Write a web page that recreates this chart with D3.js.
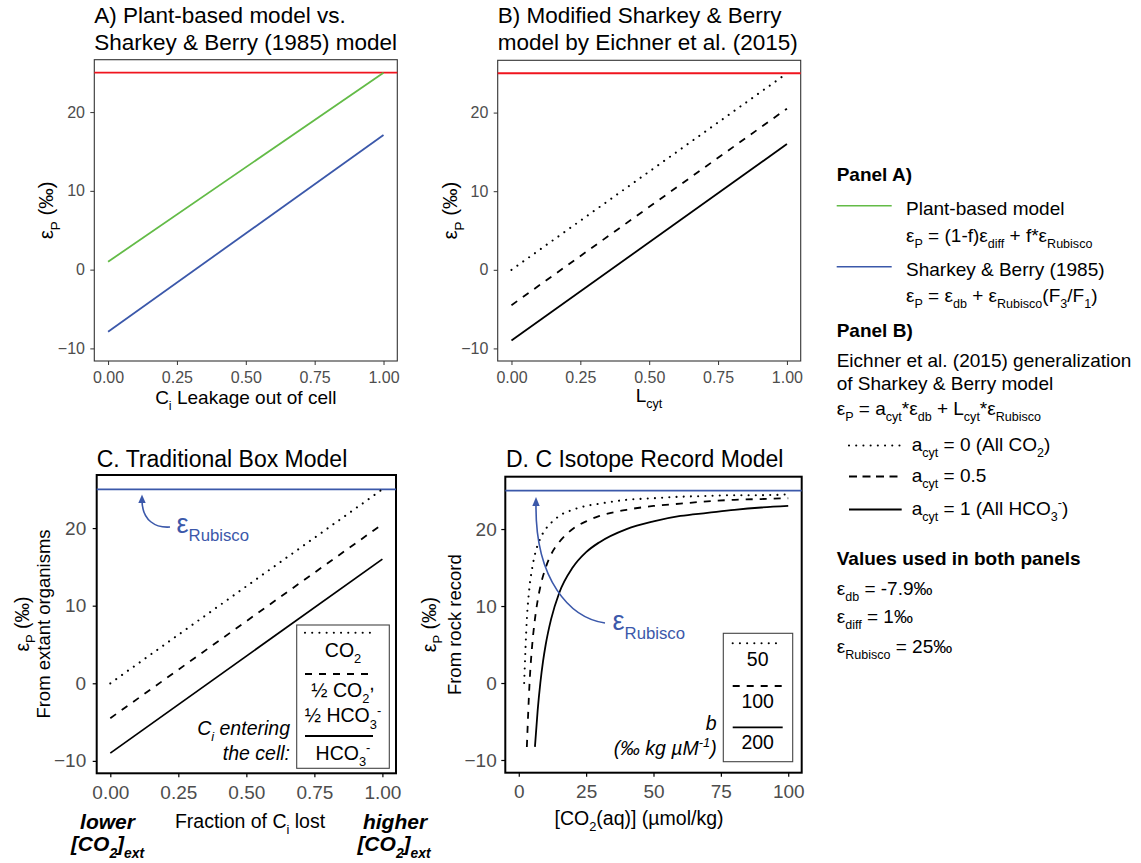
<!DOCTYPE html>
<html>
<head>
<meta charset="utf-8">
<script src="https://cdn.jsdelivr.net/npm/d3@7"></script>
<style>
  body { margin: 0; background: #fff; }
  svg { display: block; font-family: "Liberation Sans", Arial, Helvetica, sans-serif; }
</style>
</head>
<body>
<svg id="fig" width="1141" height="863"></svg>
<script>
// ---------------- data ----------------
const epsRubisco = 25;

// Panels A-C: straight-line models over the 0..1 fraction axis
const fractionX = [0, 1];
const plantBased = [1, 25];          // (1-f)·ε_diff + f·ε_Rubisco
const sharkeyBerry = [-7.9, 17.1];   // ε_db + ε_Rubisco(F3/F1)
const acytAllCO2 = [0, 25];          // a_cyt = 0
const acytHalf = [-4.5, 20.5];       // a_cyt = 0.5
const acytAllHCO3 = [-9, 16];        // a_cyt = 1

// Panel D: ε_P against [CO2(aq)] for three values of b
const co2B50 = [2, 3, 4, 5, 6, 7, 8, 10, 12, 15, 20, 25, 30, 40, 50, 60, 70, 80, 90, 100];
const epsB50 = [0, 8.3, 12.5, 15, 16.7, 17.9, 18.8, 20, 20.8, 21.7, 22.5, 23, 23.3, 23.8, 24, 24.2, 24.3, 24.4, 24.4, 24.5];
const co2B100 = [3, 4, 5, 6, 7, 8, 10, 12, 15, 20, 25, 30, 40, 50, 60, 70, 80, 90, 100];
const epsB100 = [-8.3, 0, 5, 8.3, 10.7, 12.5, 15, 16.7, 18.3, 20, 21, 21.7, 22.5, 23, 23.3, 23.6, 23.8, 23.9, 24];
const co2B200 = [6, 7, 8, 9, 10, 12, 15, 20, 25, 30, 40, 50, 60, 70, 80, 90, 100];
const epsB200 = [-8.3, -3.6, 0, 2.8, 5, 8.3, 11.7, 15, 17, 18.3, 20, 21, 21.7, 22.1, 22.5, 22.8, 23];

// tick labels
const yTicks = [-10, 0, 10, 20];
const fracTicks = [0, 0.25, 0.5, 0.75, 1];
const co2Ticks = [0, 25, 50, 75, 100];

// ---------------- styles ----------------
const GREEN = "#63bb47";
const BLUE = "#3b58aa";
const RED = "#f0141e";
const DOT = { dash: "0.01,7.2", cap: "round", width: 2.1 };
const DASH = { dash: "7,7", cap: "butt", width: 1.8 };
const SOLID = { dash: null, cap: "butt", width: 1.8 };

const svg = d3.select("#fig");

// text with sub/superscript pieces
function rich(parent, x, y, segs, o = {}) {
  const size = o.size || 19;
  const t = parent.append("text")
    .attr("x", x).attr("y", y)
    .attr("font-size", size)
    .attr("fill", o.fill || "#000")
    .attr("text-anchor", o.anchor || "start");
  if (o.weight) t.attr("font-weight", o.weight);
  if (o.style) t.attr("font-style", o.style);
  if (o.rotate) t.attr("transform", `rotate(${o.rotate},${x},${y})`);
  let shift = 0;
  segs.forEach(s => {
    const seg = typeof s === "string" ? { t: s } : s;
    let target = 0, fs = size;
    if (seg.sub) { target = size * (seg.shift ?? 0.32); fs = size * (seg.scale ?? 0.66); }
    if (seg.sup) { target = -size * (seg.shift ?? 0.4); fs = size * (seg.scale ?? 0.66); }
    if (seg.raise) { target = -size * seg.raise; }
    const ts = t.append("tspan").text(seg.t).attr("font-size", fs);
    if (target - shift !== 0) ts.attr("dy", target - shift);
    shift = target;
  });
  return t;
}

function styledPath(g, d, st, color) {
  const p = g.append("path").attr("d", d)
    .attr("fill", "none").attr("stroke", color || "#000")
    .attr("stroke-width", st.width).attr("stroke-linecap", st.cap);
  if (st.dash) p.attr("stroke-dasharray", st.dash);
  return p;
}

// build one panel: scales, axes, frame
function panel(p) {
  const x = d3.scaleLinear().domain(p.xDomain).range([p.left, p.right]);
  const y = d3.scaleLinear().domain(p.yDomain).range([p.bottom, p.top]);
  const g = svg.append("g");
  const tick = 4;

  const xPad = p.xBase - p.bottom - tick - 0.71 * p.tickFont;
  const gx = g.append("g").attr("transform", `translate(0,${p.bottom})`)
    .call(d3.axisBottom(x).tickValues(p.xTicks).tickFormat(p.xFormat).tickSize(tick).tickPadding(xPad));
  const gy = g.append("g").attr("transform", `translate(${p.left},0)`)
    .call(d3.axisLeft(y).tickValues(yTicks).tickFormat(d3.format("d")).tickSize(tick).tickPadding(p.yPad));
  [gx, gy].forEach(a => {
    a.attr("font-family", null).attr("font-size", p.tickFont);
    a.select(".domain").remove();
    a.selectAll(".tick line").attr("stroke", p.frameColor).attr("stroke-width", p.tickWidth);
    a.selectAll(".tick text").attr("fill", "#4d4d4d");
  });

  g.append("rect")
    .attr("x", p.left).attr("y", p.top)
    .attr("width", p.right - p.left).attr("height", p.bottom - p.top)
    .attr("fill", "none").attr("stroke", p.frameColor).attr("stroke-width", p.frameWidth);
  return { g, x, y };
}

const fracFmt = d3.format(".2f");

// ---------------- Panel A ----------------
{
  const P = panel({
    left: 94.3, right: 397.3, top: 59.7, bottom: 361,
    xDomain: [-0.05, 1.05], yDomain: [-11.6, 26.65],
    xTicks: fracTicks, xFormat: fracFmt, tickFont: 16, xBase: 383.3, yPad: 5.3,
    frameColor: "#333", frameWidth: 1.1, tickWidth: 1
  });
  const line = d3.line().x((d, i) => P.x(fractionX[i])).y(d => P.y(d));
  P.g.append("line").attr("x1", P.x.range()[0]).attr("x2", P.x.range()[1])
    .attr("y1", P.y(epsRubisco)).attr("y2", P.y(epsRubisco))
    .attr("stroke", RED).attr("stroke-width", 1.8);
  styledPath(P.g, line(plantBased), SOLID, GREEN);
  styledPath(P.g, line(sharkeyBerry), SOLID, BLUE);

  svg.append("text").attr("x", 94.3).attr("y", 22.7).attr("font-size", 22.5).text("A) Plant-based model vs.");
  svg.append("text").attr("x", 94.3).attr("y", 50).attr("font-size", 22.5).text("Sharkey & Berry (1985) model");
  rich(svg, 53.5, 210.3, ["ε", { t: "P", sub: true }, " (‰)"], { size: 20.5, anchor: "middle", rotate: -90 });
  rich(svg, 245.8, 404, ["C", { t: "i", sub: true }, " Leakage out of cell"], { size: 19, anchor: "middle" });
}

// ---------------- Panel B ----------------
{
  const P = panel({
    left: 497.7, right: 800.7, top: 60.3, bottom: 361,
    xDomain: [-0.05, 1.05], yDomain: [-11.6, 26.65],
    xTicks: fracTicks, xFormat: fracFmt, tickFont: 16, xBase: 383.3, yPad: 5.3,
    frameColor: "#333", frameWidth: 1.1, tickWidth: 1
  });
  const line = d3.line().x((d, i) => P.x(fractionX[i])).y(d => P.y(d));
  P.g.append("line").attr("x1", P.x.range()[0]).attr("x2", P.x.range()[1])
    .attr("y1", P.y(epsRubisco)).attr("y2", P.y(epsRubisco))
    .attr("stroke", RED).attr("stroke-width", 1.8);
  styledPath(P.g, line(acytAllCO2), DOT);
  styledPath(P.g, line(acytHalf), DASH);
  styledPath(P.g, line(acytAllHCO3), SOLID);

  svg.append("text").attr("x", 497.7).attr("y", 22.7).attr("font-size", 22.5).text("B) Modified Sharkey & Berry");
  svg.append("text").attr("x", 497.7).attr("y", 50).attr("font-size", 22.5).text("model by Eichner et al. (2015)");
  rich(svg, 457, 210.6, ["ε", { t: "P", sub: true }, " (‰)"], { size: 20.5, anchor: "middle", rotate: -90 });
  rich(svg, 649, 401.5, ["L", { t: "cyt", sub: true }], { size: 19, anchor: "middle" });
}

// ---------------- Panel C ----------------
{
  const P = panel({
    left: 96.7, right: 396, top: 475, bottom: 773.3,
    xDomain: [-0.05, 1.05], yDomain: [-11.6, 26.84],
    xTicks: fracTicks, xFormat: fracFmt, tickFont: 19, xBase: 799, yPad: 6.5,
    frameColor: "#000", frameWidth: 2, tickWidth: 1.2
  });
  const line = d3.line().x((d, i) => P.x(fractionX[i])).y(d => P.y(d));
  P.g.append("line").attr("x1", P.x.range()[0]).attr("x2", P.x.range()[1])
    .attr("y1", P.y(epsRubisco)).attr("y2", P.y(epsRubisco))
    .attr("stroke", BLUE).attr("stroke-width", 1.8);
  styledPath(P.g, line(acytAllCO2), DOT);
  styledPath(P.g, line(acytHalf), DASH);
  styledPath(P.g, line(acytAllHCO3), SOLID);

  // ε_Rubisco callout
  P.g.append("path").attr("d", "M170,527 C156,528 142,521 142,500")
    .attr("fill", "none").attr("stroke", BLUE).attr("stroke-width", 1.6);
  P.g.append("path").attr("d", "M142,494.5 L138.3,503 L145.7,503 Z").attr("fill", BLUE);
  rich(P.g, 176.5, 532.5, [{ t: "ε" }, { t: "Rubisco", sub: true, scale: 0.62, shift: 0.33 }], { size: 27, fill: BLUE });

  // inset key
  const kx0 = 296.7, kx1 = 389.3, kc = 343;
  P.g.append("rect").attr("x", kx0).attr("y", 625).attr("width", kx1 - kx0).attr("height", 143.3)
    .attr("fill", "#fff").attr("stroke", "#444").attr("stroke-width", 1.1);
  const kl = (yy, st) => styledPath(P.g, `M305,${yy}H373`, st);
  kl(632.7, DOT);
  rich(P.g, kc, 656.7, ["CO", { t: "2", sub: true }], { size: 19.5, anchor: "middle" });
  kl(674, DASH);
  rich(P.g, kc, 696.7, ["½ CO", { t: "2", sub: true }, { t: ",", raise: 0.35 }], { size: 19.5, anchor: "middle" });
  rich(P.g, kc, 722.3, ["½ HCO", { t: "3", sub: true }, { t: "-", sup: true }], { size: 19.5, anchor: "middle" });
  kl(736, SOLID);
  rich(P.g, kc, 760, ["HCO", { t: "3", sub: true }, { t: "-", sup: true }], { size: 19.5, anchor: "middle" });
  rich(P.g, 290, 735, ["C", { t: "i", sub: true }, " entering"], { size: 19.5, anchor: "end", style: "italic" });
  rich(P.g, 290, 760, ["the cell:"], { size: 19.5, anchor: "end", style: "italic" });

  svg.append("text").attr("x", 96.7).attr("y", 467.3).attr("font-size", 23).text("C. Traditional Box Model");
  rich(svg, 28.5, 624, ["ε", { t: "P", sub: true }, " (‰)"], { size: 19.5, anchor: "middle", rotate: -90 });
  rich(svg, 50, 624, ["From extant organisms"], { size: 18.5, anchor: "middle", rotate: -90 });
  rich(svg, 250, 827.5, ["Fraction of C", { t: "i", sub: true }, " lost"], { size: 19.5, anchor: "middle" });
  // axis-end annotations
  rich(svg, 107.5, 829, ["lower"], { size: 21, anchor: "middle", weight: "bold", style: "italic" });
  rich(svg, 107.5, 851, ["[CO", { t: "2", sub: true }, "]", { t: "ext", sub: true }], { size: 21, anchor: "middle", weight: "bold", style: "italic" });
  rich(svg, 395, 829, ["higher"], { size: 21, anchor: "middle", weight: "bold", style: "italic" });
  rich(svg, 394, 851, ["[CO", { t: "2", sub: true }, "]", { t: "ext", sub: true }], { size: 21, anchor: "middle", weight: "bold", style: "italic" });
}

// ---------------- Panel D ----------------
{
  const P = panel({
    left: 505.3, right: 801.7, top: 476.7, bottom: 772.7,
    xDomain: [-5, 105], yDomain: [-11.65, 26.8],
    xTicks: co2Ticks, xFormat: d3.format("d"), tickFont: 19, xBase: 798, yPad: 4.6,
    frameColor: "#000", frameWidth: 2, tickWidth: 1.2
  });
  P.g.append("line").attr("x1", P.x.range()[0]).attr("x2", P.x.range()[1])
    .attr("y1", P.y(epsRubisco)).attr("y2", P.y(epsRubisco))
    .attr("stroke", BLUE).attr("stroke-width", 1.8);
  const curve = (xs, ys) => d3.line().curve(d3.curveMonotoneX)
    .x((d, i) => P.x(xs[i])).y(d => P.y(d))(ys);
  styledPath(P.g, curve(co2B50, epsB50), DOT);
  styledPath(P.g, curve(co2B100, epsB100), DASH);
  styledPath(P.g, curve(co2B200, epsB200), SOLID);

  // ε_Rubisco callout
  P.g.append("path").attr("d", "M605,623 C570,618 535,580 536,504")
    .attr("fill", "none").attr("stroke", BLUE).attr("stroke-width", 1.6);
  P.g.append("path").attr("d", "M536,497 L532.3,506 L539.7,506 Z").attr("fill", BLUE);
  rich(P.g, 612.5, 630, [{ t: "ε" }, { t: "Rubisco", sub: true, scale: 0.62, shift: 0.33 }], { size: 27, fill: BLUE });

  // inset key
  const kx0 = 723.3, kx1 = 792.7, kc = 757.7;
  P.g.append("rect").attr("x", kx0).attr("y", 633.3).attr("width", kx1 - kx0).attr("height", 128.4)
    .attr("fill", "#fff").attr("stroke", "#444").attr("stroke-width", 1.1);
  const kl = (yy, st) => styledPath(P.g, `M732.7,${yy}H782.7`, st);
  kl(643.3, DOT);
  rich(P.g, kc, 666, ["50"], { size: 19.5, anchor: "middle" });
  kl(686, DASH);
  rich(P.g, kc, 708.3, ["100"], { size: 19.5, anchor: "middle" });
  kl(727.3, SOLID);
  rich(P.g, kc, 749.3, ["200"], { size: 19.5, anchor: "middle" });
  rich(P.g, 716.7, 730, ["b"], { size: 19.5, anchor: "end", style: "italic" });
  rich(P.g, 716.7, 755, ["(‰ kg µM", { t: "-1", sup: true }, { t: ")" }], { size: 19.5, anchor: "end", style: "italic" });

  svg.append("text").attr("x", 506).attr("y", 467.3).attr("font-size", 23).text("D. C Isotope Record Model");
  rich(svg, 436, 624.7, ["ε", { t: "P", sub: true }, " (‰)"], { size: 19.5, anchor: "middle", rotate: -90 });
  rich(svg, 461.5, 624.7, ["From rock record"], { size: 18.5, anchor: "middle", rotate: -90 });
  rich(svg, 639, 825, ["[CO", { t: "2", sub: true }, "(aq)] (µmol/kg)"], { size: 19.5, anchor: "middle" });
}

// ---------------- Key / notes ----------------
{
  const g = svg.append("g");
  const L = 836.7, T = 906, fs = 19;
  rich(g, L, 181, ["Panel A)"], { size: fs, weight: "bold" });
  g.append("line").attr("x1", L).attr("x2", 891.7).attr("y1", 205.7).attr("y2", 205.7).attr("stroke", GREEN).attr("stroke-width", 1.6);
  rich(g, T, 215, ["Plant-based model"], { size: fs });
  rich(g, T, 241.7, ["ε", { t: "P", sub: true }, " = (1-f)ε", { t: "diff", sub: true }, " + f*ε", { t: "Rubisco", sub: true }], { size: fs });
  g.append("line").attr("x1", L).attr("x2", 891.7).attr("y1", 266.7).attr("y2", 266.7).attr("stroke", BLUE).attr("stroke-width", 1.6);
  rich(g, T, 276, ["Sharkey & Berry (1985)"], { size: fs });
  rich(g, T, 301.7, ["ε", { t: "P", sub: true }, " = ε", { t: "db", sub: true }, " + ε", { t: "Rubisco", sub: true }, "(F", { t: "3", sub: true }, "/F", { t: "1", sub: true }, ")"], { size: fs });

  rich(g, L, 336.7, ["Panel B)"], { size: fs, weight: "bold" });
  rich(g, L, 366.7, ["Eichner et al. (2015) generalization"], { size: fs });
  rich(g, L, 390, ["of Sharkey & Berry model"], { size: fs });
  rich(g, L, 415, ["ε", { t: "P", sub: true }, " = a", { t: "cyt", sub: true }, "*ε", { t: "db", sub: true }, " + L", { t: "cyt", sub: true }, "*ε", { t: "Rubisco", sub: true }], { size: fs });

  const ll = (yy, st) => styledPath(g, `M849,${yy}H901.7`, st);
  ll(445.5, DOT);
  rich(g, 911.7, 450.5, ["a", { t: "cyt", sub: true }, " = 0 (All CO", { t: "2", sub: true }, ")"], { size: fs });
  ll(476.5, { dash: "8,5.5", cap: "butt", width: 1.8 });
  rich(g, 911.7, 481.5, ["a", { t: "cyt", sub: true }, " = 0.5"], { size: fs });
  ll(509.5, SOLID);
  rich(g, 911.7, 514.5, ["a", { t: "cyt", sub: true }, " = 1 (All HCO", { t: "3", sub: true }, { t: "-", sup: true }, ")"], { size: fs });

  rich(g, L, 565, ["Values used in both panels"], { size: fs, weight: "bold" });
  rich(g, L, 595, ["ε", { t: "db", sub: true }, " = -7.9‰"], { size: fs });
  rich(g, L, 623.3, ["ε", { t: "diff", sub: true }, " = 1‰"], { size: fs });
  rich(g, L, 653.3, ["ε", { t: "Rubisco", sub: true }, " = 25‰"], { size: fs });
}
</script>
</body>
</html>
